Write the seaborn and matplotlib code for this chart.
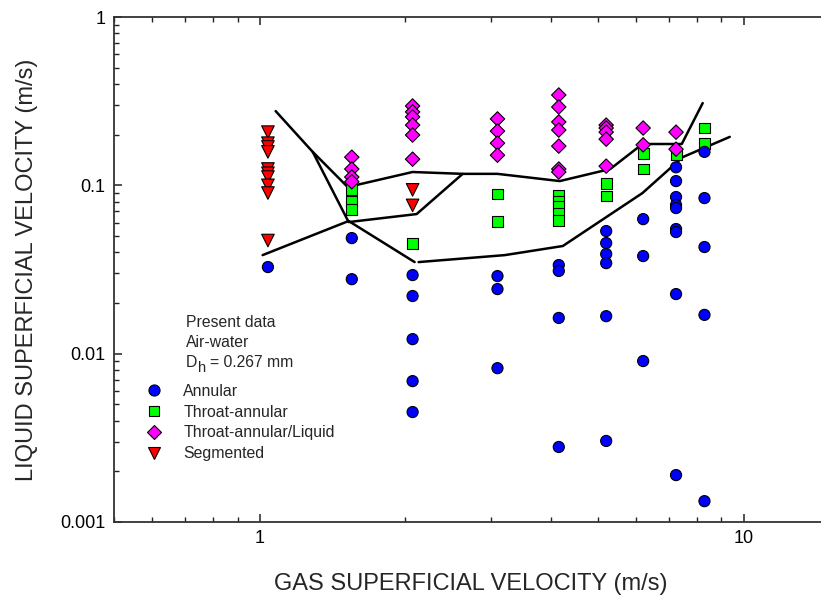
import matplotlib
import matplotlib.pyplot as plt
import matplotlib.ticker as mticker
import seaborn as sns
import pandas as pd

matplotlib.use('Agg')

# gas superficial velocity columns (m/s)
ANN_X = [1.04, 1.55, 1.55, 2.07, 2.07, 2.07, 2.07, 2.07, 3.1, 3.1, 3.1,
         4.15, 4.15, 4.15, 4.15, 5.2, 5.2, 5.2, 5.2, 5.2, 5.2,
         6.2, 6.2, 6.2, 7.25, 7.25, 7.25, 7.25, 7.25, 7.25, 7.25, 7.25, 7.25,
         8.3, 8.3, 8.3, 8.3, 8.3]
ANN_Y = [0.0327, 0.0486, 0.0277, 0.0293, 0.022, 0.0122, 0.00687, 0.0045, 0.0289, 0.0242, 0.0082,
         0.0336, 0.031, 0.0163, 0.00279, 0.0535, 0.0454, 0.0391, 0.0345, 0.0167, 0.00303,
         0.063, 0.038, 0.00904, 0.128, 0.106, 0.0852, 0.0764, 0.0733, 0.055, 0.0528, 0.0226, 0.0019,
         0.158, 0.084, 0.043, 0.017, 0.00133]

THR_X = [1.55, 1.55, 1.55, 2.07, 3.1, 3.1, 4.15, 4.15, 4.15, 4.15, 4.15,
         5.2, 5.2, 6.2, 6.2, 7.25, 8.3, 8.3]
THR_Y = [0.094, 0.080, 0.072, 0.0454, 0.0888, 0.0613, 0.0875, 0.080, 0.075, 0.0685, 0.062,
         0.103, 0.0864, 0.155, 0.125, 0.153, 0.219, 0.178]

TAL_X = [1.55, 1.55, 1.55, 1.55, 2.07, 2.07, 2.07, 2.07, 2.07, 2.07,
         3.1, 3.1, 3.1, 3.1, 4.15, 4.15, 4.15, 4.15, 4.15, 4.15, 4.15,
         5.2, 5.2, 5.2, 5.2, 5.2, 6.2, 6.2, 7.25, 7.25]
TAL_Y = [0.147, 0.125, 0.112, 0.105, 0.296, 0.273, 0.255, 0.228, 0.199, 0.143,
         0.248, 0.210, 0.178, 0.151, 0.344, 0.292, 0.238, 0.213, 0.171, 0.125, 0.120,
         0.228, 0.219, 0.207, 0.188, 0.130, 0.219, 0.174, 0.207, 0.164]

SEG_X = [1.04] * 10 + [2.07, 2.07]
SEG_Y = [0.207, 0.178, 0.169, 0.158, 0.125, 0.118, 0.112, 0.100, 0.090, 0.047,
         0.094, 0.076]

REGIMES = ['Annular', 'Throat-annular', 'Throat-annular/Liquid', 'Segmented']

# transition boundaries (polylines)
LINE_A_X = [1.079, 1.287, 1.52, 2.07, 2.627, 3.1, 4.17, 5.3, 6.18, 7.45, 8.23]
LINE_A_Y = [0.276, 0.158, 0.0977, 0.120, 0.117, 0.117, 0.106, 0.125, 0.176, 0.176, 0.308]
LINE_B_X = [1.287, 1.527, 2.11, 2.627]
LINE_B_Y = [0.158, 0.0605, 0.0675, 0.117]
LINE_C_X = [1.014, 1.527, 2.09]
LINE_C_Y = [0.0385, 0.0614, 0.035]
LINE_D_X = [2.13, 3.21, 4.23, 6.18, 7.48, 9.36]
LINE_D_Y = [0.035, 0.0385, 0.0436, 0.090, 0.147, 0.194]

points = pd.concat([
    pd.DataFrame({'x': THR_X, 'y': THR_Y, 'regime': REGIMES[1]}),
    pd.DataFrame({'x': TAL_X, 'y': TAL_Y, 'regime': REGIMES[2]}),
    pd.DataFrame({'x': SEG_X, 'y': SEG_Y, 'regime': REGIMES[3]}),
    pd.DataFrame({'x': ANN_X, 'y': ANN_Y, 'regime': REGIMES[0]}),
], ignore_index=True)

lines = pd.concat([
    pd.DataFrame({'x': LINE_A_X, 'y': LINE_A_Y, 'seg': 'a'}),
    pd.DataFrame({'x': LINE_B_X, 'y': LINE_B_Y, 'seg': 'b'}),
    pd.DataFrame({'x': LINE_C_X, 'y': LINE_C_Y, 'seg': 'c'}),
    pd.DataFrame({'x': LINE_D_X, 'y': LINE_D_Y, 'seg': 'd'}),
], ignore_index=True)

sns.set_style('white')
plt.rcParams['font.family'] = ['Liberation Sans', 'DejaVu Sans']

W, H = 821, 599
fig = plt.figure(figsize=(W / 100, H / 100), dpi=100)
ax = fig.add_axes([114 / W, 1 - 522 / H, (W - 114) / W, (522 - 17) / H])

sns.lineplot(data=lines, x='x', y='y', units='seg', estimator=None, sort=False,
             color='black', linewidth=1.8, ax=ax, zorder=1)

palette = {'Annular': '#0000ff', 'Throat-annular': '#00ff00',
           'Throat-annular/Liquid': '#ff00ff', 'Segmented': '#ff0000'}
markers = {'Annular': 'o', 'Throat-annular': 's',
           'Throat-annular/Liquid': 'D', 'Segmented': 'v'}
sizes = {'Annular': 64, 'Throat-annular': 62,
         'Throat-annular/Liquid': 54, 'Segmented': 82}

sns.scatterplot(data=points, x='x', y='y', hue='regime', style='regime', size='regime',
                hue_order=REGIMES, style_order=REGIMES, size_order=REGIMES,
                palette=palette, markers=markers, sizes=sizes,
                edgecolor='black', linewidth=0.8, ax=ax, zorder=3)

ax.set_xscale('log')
ax.set_yscale('log')
ax.set_xlim(0.5, 14.45)
ax.set_ylim(0.001, 1)

fmt = mticker.FuncFormatter(lambda v, p: f'{v:g}')
ax.xaxis.set_major_locator(mticker.LogLocator(base=10))
ax.yaxis.set_major_locator(mticker.LogLocator(base=10))
ax.xaxis.set_major_formatter(fmt)
ax.yaxis.set_major_formatter(fmt)
ax.xaxis.set_minor_locator(mticker.LogLocator(base=10, subs=range(2, 10)))
ax.yaxis.set_minor_locator(mticker.LogLocator(base=10, subs=range(2, 10)))
ax.xaxis.set_minor_formatter(mticker.NullFormatter())
ax.yaxis.set_minor_formatter(mticker.NullFormatter())

ax.tick_params(which='both', direction='in', top=True, bottom=True, left=True, right=False,
               colors='#222222', labelcolor='black')
ax.tick_params(which='major', length=6, width=1.1, labelsize=13, pad=6)
ax.tick_params(which='minor', length=3.5, width=1.0)
for side in ['left', 'bottom', 'top']:
    ax.spines[side].set_linewidth(1.3)
    ax.spines[side].set_color('#333333')
ax.spines['right'].set_visible(False)

ax.set_xlabel('GAS SUPERFICIAL VELOCITY (m/s)', fontsize=17)
ax.set_ylabel('LIQUID SUPERFICIAL VELOCITY (m/s)', fontsize=17)
ax.xaxis.set_label_coords((471 - 114) / (W - 114), (522 - 584) / (522 - 17))
ax.xaxis.label.set_va('center')
ax.yaxis.set_label_coords((27 - 114) / (W - 114), 0.5)
ax.yaxis.label.set_va('center')

# annotation block
fig.text(186 / W, 1 - 327 / H, 'Present data', fontsize=11.3)
fig.text(186 / W, 1 - 347 / H, 'Air-water', fontsize=11.3)
fig.text(186 / W, 1 - 367 / H, 'D', fontsize=11.3)
fig.text(197.5 / W, 1 - 372 / H, 'h', fontsize=10.5)
fig.text(210 / W, 1 - 367 / H, '= 0.267 mm', fontsize=11.3)

handles, labels = ax.get_legend_handles_labels()
ax.legend(handles, labels, loc='upper left', frameon=False, fontsize=11.4,
          bbox_to_anchor=(146 / W, 1 - 384 / H), bbox_transform=fig.transFigure,
          borderpad=0, borderaxespad=0, handlelength=1.0, handletextpad=1.35,
          labelspacing=0.36)

fig.savefig('out.png', dpi=100)
